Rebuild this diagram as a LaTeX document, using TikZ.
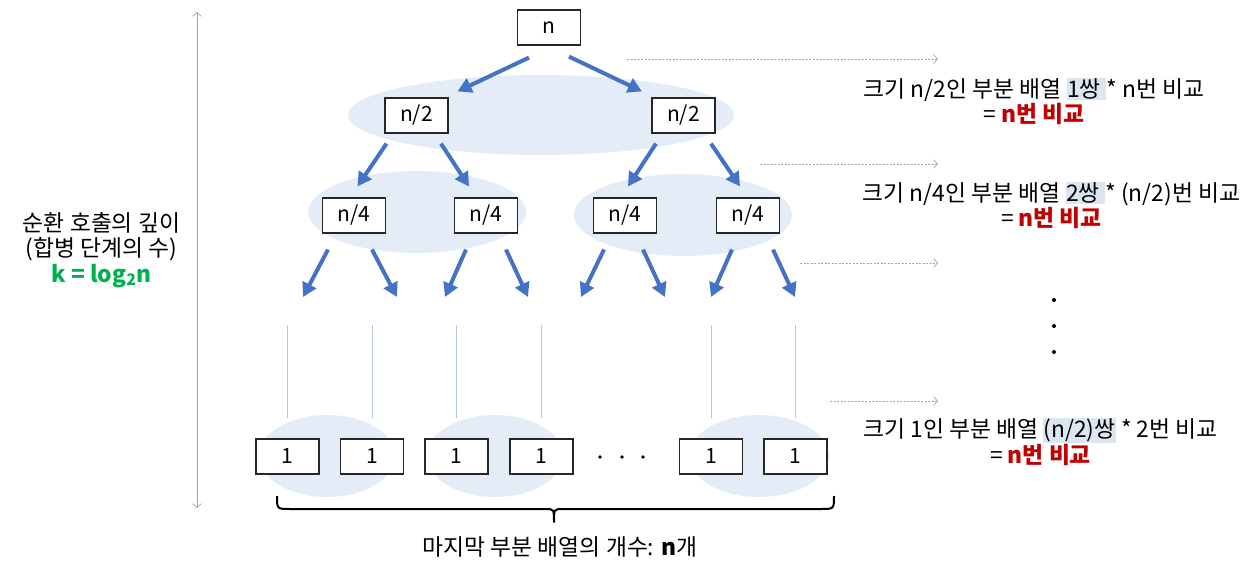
\documentclass[tikz,border=0pt]{standalone}
\usepackage{fontspec}
\setmainfont{Noto Sans CJK KR}
\usetikzlibrary{arrows.meta,calc}
\definecolor{arrblue}{HTML}{4472C4}
\definecolor{ellfill}{HTML}{E3ECF7}
\definecolor{vline}{HTML}{B4C7E7}
\definecolor{hl}{HTML}{DCE6F1}
\definecolor{redt}{HTML}{C00000}
\definecolor{greent}{HTML}{00B050}
\definecolor{dotg}{HTML}{A6A6A6}
\newcommand{\hlt}[1]{{\setlength{\fboxsep}{0.5bp}\colorbox{hl}{#1}}}
\begin{document}
\begin{tikzpicture}[x=1bp,y=-1bp,
  box/.style={draw=black!85,line width=1.2bp,fill=white,minimum width=63bp,minimum height=35bp,inner sep=0pt,font=\fontsize{21bp}{24bp}\selectfont},
  grp/.style={fill=ellfill,draw=none},
  bigarrow/.style={draw=arrblue,line width=4bp,-{Triangle[length=14bp,width=15bp]}},
  guide/.style={draw=dotg,line width=0.7bp,dash pattern=on 2bp off 1.5bp,-{Straight Barb[length=4bp,width=9bp]}},
  axisline/.style={draw=dotg,line width=0.7bp,{Straight Barb[length=4bp,width=9bp]}-{Straight Barb[length=4bp,width=9bp]}},
  thinline/.style={draw=vline,line width=0.8bp},
  info/.style={align=center,inner sep=0pt,font=\fontsize{22.8bp}{25.5bp}\selectfont},
  dotmark/.style={fill=black}
]
\useasboundingbox (0,0) rectangle (1248,566);
% group ellipses
\fill[grp] (541,115) ellipse [x radius=193, y radius=40];
\fill[grp] (417,212) ellipse [x radius=109, y radius=41];
\fill[grp] (683,215) ellipse [x radius=109, y radius=41];
\fill[grp] (327,456) ellipse [x radius=68, y radius=41];
\fill[grp] (495,456) ellipse [x radius=68, y radius=41];
\fill[grp] (759,456) ellipse [x radius=70, y radius=41];
% boxes
\node[box] (root) at (549,27.5) {n};
\node[box] (a1) at (416.5,115.5) {n/2};
\node[box] (a2) at (683.5,115.5) {n/2};
\node[box] (b1) at (354,215.5) {n/4};
\node[box] (b2) at (486,215.5) {n/4};
\node[box] (b3) at (625,215.5) {n/4};
\node[box] (b4) at (748,215.5) {n/4};
\node[box] (c1) at (287.5,456.5) {1};
\node[box] (c2) at (372,456.5) {1};
\node[box] (c3) at (456.5,456.5) {1};
\node[box] (c4) at (541.5,456.5) {1};
\node[box] (c5) at (711,456.5) {1};
\node[box] (c6) at (795.5,456.5) {1};
% arrows level 1
\draw[bigarrow] ($(root.south)+(-20,12)$) -- ($(a1.north)+(41,-6)$);
\draw[bigarrow] ($(root.south)+(20,11)$) -- ($(a2.north)+(-41.5,-6)$);
% arrows level 2
\draw[bigarrow] ($(a1.south)+(-30,10)$) -- ($(b1.north)+(3.5,-11)$);
\draw[bigarrow] ($(a1.south)+(24.5,10)$) -- ($(b2.north)+(-17,-11)$);
\draw[bigarrow] ($(a2.south)+(-27.5,10)$) -- ($(b3.north)+(3,-11)$);
\draw[bigarrow] ($(a2.south)+(27.5,10)$) -- ($(b4.north)+(-8,-11)$);
% arrows level 3 (free ends)
\coordinate (e1) at (303,297);
\coordinate (e2) at (397,297);
\coordinate (e3) at (445,297);
\coordinate (e4) at (528,297);
\coordinate (e5) at (581,297);
\coordinate (e6) at (665,297);
\coordinate (e7) at (711,297);
\coordinate (e8) at (795,297);
\draw[bigarrow] ($(b1.south)+(-26,16)$) -- (e1);
\draw[bigarrow] ($(b1.south)+(18,16)$) -- (e2);
\draw[bigarrow] ($(b2.south)+(-20,16)$) -- (e3);
\draw[bigarrow] ($(b2.south)+(20,16)$) -- (e4);
\draw[bigarrow] ($(b3.south)+(-21,16)$) -- (e5);
\draw[bigarrow] ($(b3.south)+(18,16)$) -- (e6);
\draw[bigarrow] ($(b4.south)+(-16,16)$) -- (e7);
\draw[bigarrow] ($(b4.south)+(25,16)$) -- (e8);
% thin vertical lines
\foreach \c in {c1,c2,c3,c4,c5,c6}{
  \draw[thinline] ($(\c.north)+(0,-113)$) -- ($(\c.north)+(0,-20)$);
}
% dots in the last row
\fill[dotmark] (600,457) circle (1.8);
\fill[dotmark] (622,457) circle (1.8);
\fill[dotmark] (643,457) circle (1.8);
% guide arrows
\coordinate (g1s) at (627,59);  \coordinate (g1e) at (938,59);
\coordinate (g2s) at (760,164); \coordinate (g2e) at (938,164);
\coordinate (g3s) at (800,263); \coordinate (g3e) at (938,263);
\coordinate (g4s) at (830,401); \coordinate (g4e) at (938,401);
\draw[guide] (g1s) -- (g1e);
\draw[guide] (g2s) -- (g2e);
\draw[guide] (g3s) -- (g3e);
\draw[guide] (g4s) -- (g4e);
% right texts
\node[info] (t1) at (1034,101.5) {크기 n/2인 부분 배열 \hlt{1쌍~}* n번 비교\\= \textcolor{redt}{\bfseries n번 비교}};
\node[info] (t2) at (1051.5,205.5) {크기 n/4인 부분 배열 \hlt{2쌍~}* (n/2)번 비교\\= \textcolor{redt}{\bfseries n번 비교}};
\node[info] (t3) at (1040.5,442) {크기 1인 부분 배열 \hlt{(n/2)쌍} * 2번 비교\\= \textcolor{redt}{\bfseries n번 비교}};
% vertical dots
\fill[dotmark] (1054,300) circle (2);
\fill[dotmark] (1054,326) circle (2);
\fill[dotmark] (1054,352) circle (2);
% depth axis
\coordinate (axtop) at (197,12);
\coordinate (axbot) at (197,508);
\draw[axisline] (axtop) -- (axbot);
\node[info] (depth) at (101.5,250) {순환 호출의 깊이\\(합병 단계의 수)\\\textcolor{greent}{\bfseries k = log\textsubscript{2}n}};
% brace
\draw[line width=2bp,line join=round] (277,496) .. controls (277,509) .. (290,509) -- (545,509) .. controls (554,509) .. (554,522) .. controls (554,509) .. (563,509) -- (821,509) .. controls (834,509) .. (834,496);
\node[info] (count) at (560,547) {마지막 부분 배열의 개수: \textbf{n}개};
\end{tikzpicture}
\end{document}
